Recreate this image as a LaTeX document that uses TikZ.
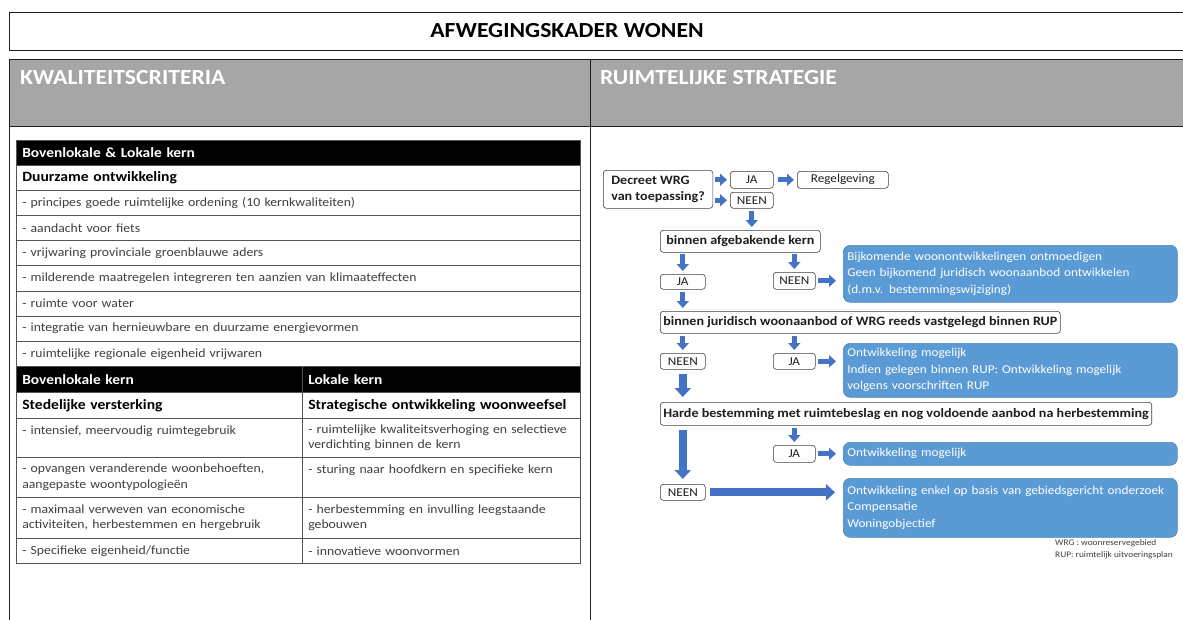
\documentclass[tikz,border=0pt]{standalone}
\usepackage{fontspec}
\setmainfont{Carlito}[FakeStretch=1.1]
\usetikzlibrary{positioning,arrows.meta,calc}
\definecolor{ink}{HTML}{1E1E1E}
\definecolor{ink2}{HTML}{3F3F3F}
\definecolor{rule}{HTML}{555555}
\definecolor{hdrgray}{HTML}{A6A6A6}
\definecolor{boxblue}{HTML}{5B9BD5}
\definecolor{arrblue}{HTML}{4472C4}
\newcommand{\tabfont}{\fontsize{12.5pt}{15.5pt}\selectfont}
\newcommand{\subfont}{\fontsize{14.2pt}{16pt}\selectfont}
\newcommand{\flowfont}{\fontsize{12pt}{16.5pt}\selectfont}
\newcommand{\notefont}{\fontsize{8.5pt}{12pt}\selectfont}
\tikzset{
  frame/.style={draw=ink, line width=0.8pt},
  hdr/.style={anchor=west, inner sep=0pt, text=white,
    font=\bfseries\fontsize{21.5pt}{24pt}\selectfont},
  cell/.style={draw=rule, line width=0.6pt, anchor=north west, align=left,
    inner xsep=6pt, inner ysep=2pt, font=\tabfont, text=ink2},
  wide/.style={minimum width=564pt, text width=552pt},
  lcol/.style={minimum width=286pt, text width=274pt},
  rcol/.style={minimum width=278pt, text width=266pt},
  thead/.style={cell, fill=black, text=white, font=\bfseries\fontsize{14pt}{16pt}\selectfont},
  tsub/.style={cell, text=black, font=\bfseries\subfont},
  qbox/.style={draw=ink2, line width=0.6pt, rounded corners=3pt, fill=white,
    anchor=north west, inner xsep=3pt, inner ysep=0pt, text=ink},
  qbold/.style={qbox, font=\bfseries\fontsize{12.8pt}{16.5pt}\selectfont},
  res/.style={fill=boxblue, draw=boxblue!85!black, line width=0.6pt, rounded corners=7pt,
    anchor=north west, align=left, text=white, inner xsep=4pt,
    minimum width=334pt, text width=326pt},
  barr/.style={-{Triangle[length=7pt,width=12pt]}, line width=5pt, color=arrblue,
    shorten <=2pt, shorten >=3pt},
  bigarr/.style={-{Triangle[length=9pt,width=16pt]}, line width=8pt, color=arrblue,
    shorten <=4pt, shorten >=5pt},
}

\begin{document}
\begin{tikzpicture}[x=1pt, y=-1pt, font=\flowfont]
    \useasboundingbox (0,0) rectangle (1183,619);
    % frame
    \draw[frame] (9,12) rectangle (1195,50);
    \node[font=\bfseries\fontsize{21.5pt}{24pt}\selectfont, text=black] (title) at (567,31) {AFWEGINGSKADER WONEN};
    \fill[hdrgray] (9,59) rectangle (1195,126);
    \draw[frame] (1195,59) -- (9,59) -- (9,625);
    \draw[frame] (9,126) -- (1195,126);
    \draw[frame] (590,59) -- (590,625);
    \node[hdr] (kwal) at (20,78) {KWALITEITSCRITERIA};
    \node[hdr] (strat) at (600,78) {RUIMTELIJKE STRATEGIE};

    % kwaliteitscriteria
    \node[thead, wide, minimum height=25pt] (bl) at (16,140) {Bovenlokale \& Lokale kern};
    \node[tsub, wide, minimum height=25pt] (duur) at (16,165) {Duurzame ontwikkeling};
    \foreach \txt [count=\i] in {
        {- principes goede ruimtelijke ordening (10 kernkwaliteiten)},
        {- aandacht voor fiets},
        {- vrijwaring provinciale groenblauwe aders},
        {- milderende maatregelen integreren ten aanzien van klimaateffecten},
        {- ruimte voor water},
        {- integratie van hernieuwbare en duurzame energievormen},
        {- ruimtelijke regionale eigenheid vrijwaren}}
      \node[cell, wide, minimum height=25.15pt] (dr\i) at (16,{190+25.15*(\i-1)}) {\txt};
    \node[thead, lcol, minimum height=26pt] (bk) at (16,366) {Bovenlokale kern};
    \node[thead, rcol, minimum height=26pt] (lk) at (302,366) {Lokale kern};
    \node[tsub, lcol, minimum height=26pt] (sv) at (16,392) {Stedelijke versterking};
    \node[tsub, rcol, minimum height=26pt] (so) at (302,392) {Strategische ontwikkeling woonweefsel};
    \node[cell, lcol, minimum height=39pt] (sv1) at (16,418) {- intensief, meervoudig ruimtegebruik\\~};
    \node[cell, rcol, minimum height=39pt] (so1) at (302,418)
      {- ruimtelijke kwaliteitsverhoging en selectieve\\verdichting binnen de kern};
    \node[cell, lcol, minimum height=40pt] (sv2) at (16,457)
      {- opvangen veranderende woonbehoeften,\\aangepaste woontypologieën};
    \node[cell, rcol, minimum height=40pt] (so2) at (302,457) {- sturing naar hoofdkern en specifieke kern\\~};
    \node[cell, lcol, minimum height=41pt] (sv3) at (16,497)
      {- maximaal verweven van economische\\activiteiten, herbestemmen en hergebruik};
    \node[cell, rcol, minimum height=41pt] (so3) at (302,497)
      {- herbestemming en invulling leegstaande\\gebouwen};
    \node[cell, lcol, minimum height=25pt] (sv4) at (16,538) {- Specifieke eigenheid/functie};
    \node[cell, rcol, minimum height=25pt] (so4) at (302,538) {- innovatieve woonvormen};

    % ruimtelijke strategie
    \node[qbold, align=left, minimum width=106pt, minimum height=38pt, inner xsep=8pt] (dec) at (603,170)
      {Decreet WRG\\van toepassing?};
    \node[qbox, minimum width=43pt, minimum height=17pt] (ja1) at (730,171) {JA};
    \node[qbox, minimum width=91pt, minimum height=17pt] (reg) at (797,171) {Regelgeving};
    \node[qbox, minimum width=43pt, minimum height=16pt] (neen1) at (730,192) {NEEN};
    \node[qbold, minimum width=160pt, minimum height=22pt] (kern) at (660,230) {binnen afgebakende kern};
    \node[qbox, minimum width=45pt, minimum height=15pt] (ja2) at (660,274) {JA};
    \node[qbox, minimum width=42pt, minimum height=17pt] (neen2) at (773,272) {NEEN};
    \node[res, minimum height=57pt] (ontm) at (843,245)
      {Bijkomende woonontwikkelingen ontmoedigen\\Geen bijkomend juridisch woonaanbod ontwikkelen\\(d.m.v. bestemmingswijziging)};
    \node[qbold, minimum width=400pt, minimum height=22pt] (rup) at (660,311) {binnen juridisch woonaanbod of WRG reeds vastgelegd binnen RUP};
    \node[qbox, minimum width=45pt, minimum height=16pt] (neen3) at (660,353) {NEEN};
    \node[qbox, minimum width=42pt, minimum height=16pt] (ja3) at (773,353) {JA};
    \node[res, minimum height=54pt] (mog1) at (843,343)
      {Ontwikkeling mogelijk\\Indien gelegen binnen RUP: Ontwikkeling mogelijk\\volgens voorschriften RUP};
    \node[qbold, minimum width=490pt, minimum height=23pt] (harde) at (660,402)
      {Harde bestemming met ruimtebeslag en nog voldoende aanbod na herbestemming};
    \node[qbox, minimum width=42pt, minimum height=17pt] (ja4) at (773,445) {JA};
    \node[res, minimum height=23pt] (mog2) at (843,442) {Ontwikkeling mogelijk};
    \node[qbox, minimum width=45pt, minimum height=16pt] (neen4) at (660,484) {NEEN};
    \node[res, minimum height=59pt] (onderz) at (843,478)
      {\mbox{Ontwikkeling enkel op basis van gebiedsgericht onderzoek}\\Compensatie\\Woningobjectief};
    \node[anchor=north west, align=left, font=\notefont, text=ink2, inner sep=0pt] (legend) at (1055,539)
      {WRG : woonreservegebied\\RUP: ruimtelijk uitvoeringsplan};

    \draw[barr] (dec.east |- ja1.west) -- (ja1.west);
    \draw[barr, shorten <=4pt] (ja1.east) -- (reg.west);
    \draw[barr] (dec.east |- neen1.west) -- (neen1.west);
    \draw[barr] (neen1.south) -- (neen1.south |- kern.north);
    \draw[barr, shorten <=1pt] (kern.south -| ja2.north) -- (ja2.north);
    \draw[barr, shorten <=1pt] (kern.south -| neen2.north) -- (neen2.north);
    \draw[barr, shorten >=7pt] (neen2.east) -- (neen2.east -| ontm.west);
    \draw[barr] (ja2.south) -- (ja2.south |- rup.north);
    \draw[barr] (rup.south -| neen3.north) -- (neen3.north);
    \draw[barr] (rup.south -| ja3.north) -- (ja3.north);
    \draw[barr, shorten >=7pt] (ja3.east) -- (ja3.east -| mog1.west);
    \draw[bigarr] (neen3.south) -- (neen3.south |- harde.north);
    \draw[barr] (harde.south -| ja4.north) -- (ja4.north);
    \draw[barr, shorten >=7pt] (ja4.east) -- (ja4.east -| mog2.west);
    \draw[bigarr] (harde.south -| neen4.north) -- (neen4.north);
    \draw[bigarr, shorten >=8pt] (neen4.east) -- (neen4.east -| onderz.west);
  \end{tikzpicture}
\end{document}
